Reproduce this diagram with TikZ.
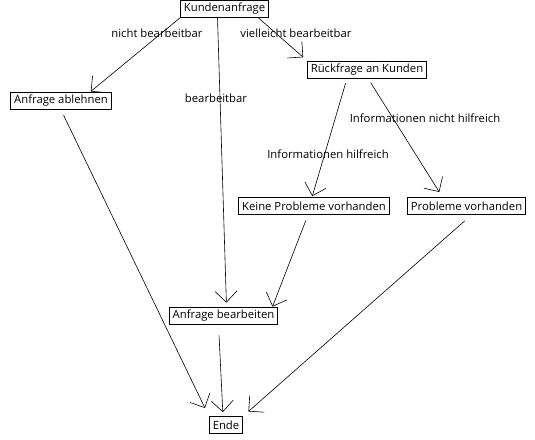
\documentclass[tikz,border=0pt]{standalone}
\usepackage{fontspec}
\setmainfont{Open Sans}
\usetikzlibrary{arrows.meta}

\tikzset{
  box/.style={draw, line width=0.8pt, inner xsep=3.5pt, inner ysep=2pt, minimum height=17pt, font=\fontsize{11.3}{13}\selectfont},
  lbl/.style={font=\fontsize{11.3}{13}\selectfont},
  pfeil/.style={-{Straight Barb[length=11pt,width=22pt]}, line width=0.6pt}
}

\begin{document}
\begin{tikzpicture}[x=1pt,y=-1pt]
  \useasboundingbox (0,0) rectangle (535,439);
  \node[box] (kunden) at (224.5,9) {Kundenanfrage};
  \node[box] (rueck) at (367,69.5) {Rückfrage an Kunden};
  \node[box] (ablehnen) at (61,101) {Anfrage ablehnen};
  \node[box] (keine) at (314,206) {Keine Probleme vorhanden};
  \node[box] (probl) at (466.5,206) {Probleme vorhanden};
  \node[box] (bearb) at (223.5,315.5) {Anfrage bearbeiten};
  \node[box] (ende) at (226,425) {Ende};

  \node[lbl] (l1) at (157,33) {nicht bearbeitbar};
  \node[lbl] (l2) at (296,33) {vielleicht bearbeitbar};
  \node[lbl] (l3) at (216,98) {bearbeitbar};
  \node[lbl] (l4) at (425,118) {Informationen nicht hilfreich};
  \node[lbl] (l5) at (328,154) {Informationen hilfreich};

  \draw[pfeil, shorten >=1pt] (kunden.south west) -- ([xshift=29]ablehnen.north);
  \draw[pfeil, shorten >=5pt] ([xshift=34]kunden.south) -- (rueck.north west);
  \draw[pfeil, shorten >=4pt] ([xshift=-7]kunden.south) -- ([xshift=3]bearb.north);
  \draw[pfeil, shorten <=5pt, shorten >=1pt] ([xshift=-20]rueck.south) -- ([xshift=-2]keine.north);
  \draw[pfeil, shorten <=5pt, shorten >=6pt] ([xshift=1]rueck.south) -- ([xshift=-24]probl.north);
  \draw[pfeil, shorten <=6pt, shorten >=9pt] (ablehnen.south) -- (ende.north west);
  \draw[pfeil, shorten <=6pt] ([xshift=-6]keine.south) -- ([xshift=49]bearb.north);
  \draw[pfeil, shorten <=9pt, shorten >=7pt] ([xshift=5]probl.south) -- (ende.north east);
  \draw[pfeil, shorten <=11pt, shorten >=4pt] ([xshift=-5]bearb.south) -- ([xshift=-3]ende.north);
\end{tikzpicture}
\end{document}
